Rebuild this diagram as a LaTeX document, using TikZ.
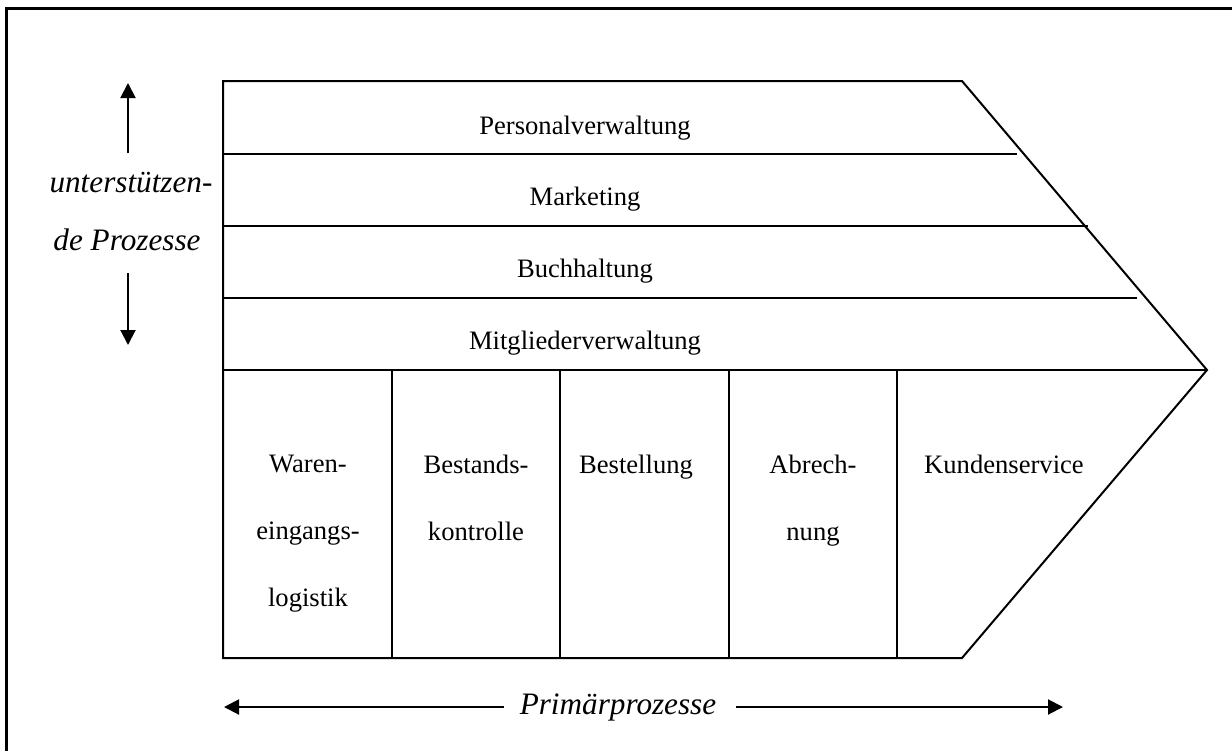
\documentclass[tikz,border=0pt]{standalone}
\usepackage{fontspec}
\setmainfont{Liberation Serif}
\usetikzlibrary{arrows.meta}

\begin{document}
\begin{tikzpicture}[x=0.5pt,y=-0.5pt,
  outline/.style={line width=1pt, line join=miter},
  rowtext/.style={font=\fontsize{13.3}{23}\selectfont, inner sep=0pt, anchor=base},
  coltext/.style={font=\fontsize{13.3}{33.5}\selectfont, inner sep=0pt, anchor=north, align=center},
  itext/.style={font=\fontsize{15.6}{19}\selectfont\itshape, inner sep=0pt, anchor=base},
  arr/.style={line width=1pt, -{Triangle[length=7.5pt,width=7.5pt]}}
]
\useasboundingbox (0,0) rectangle (1232,751);

% page frame (left and top edge)
\draw[line width=1.3pt] (1232,8.5) -- (6.5,8.5) -- (6.5,751);

% value chain outline
\coordinate (tl)  at (223,81);
\coordinate (tr)  at (962,81);
\coordinate (tip) at (1207,370);
\coordinate (br)  at (962,658);
\coordinate (bl)  at (223,658);
\draw[outline] (tr) -- (tl) -- (bl) -- (br) -- (tip) -- cycle;

% support activity rows
\coordinate (r1l) at (223,154);  \coordinate (r1r) at (1017,154);
\coordinate (r2l) at (223,226);  \coordinate (r2r) at (1088,226);
\coordinate (r3l) at (223,298);  \coordinate (r3r) at (1137,298);
\coordinate (r4l) at (223,370);
\draw[outline] (r1l) -- (r1r);
\draw[outline] (r2l) -- (r2r);
\draw[outline] (r3l) -- (r3r);
\draw[outline] (r4l) -- (tip);

% primary activity columns
\foreach \x/\n in {392/c1,560/c2,729/c3,897/c4}{
  \coordinate (\n t) at (\x,370);
  \coordinate (\n b) at (\x,658);
  \draw[outline] (\n t) -- (\n b);
}

% support activities
\node[rowtext] (pers) at (585,134) {Personalverwaltung};
\node[rowtext] (mark) at (585,205) {Marketing};
\node[rowtext] (buch) at (585,277) {Buchhaltung};
\node[rowtext] (mitg) at (585,349) {Mitgliederverwaltung};

% primary activities
\node[coltext] (ware) at (308,455) {Waren-\\eingangs-\\logistik};
\node[coltext] (best) at (476,455) {Bestands-\\kontrolle};
\node[coltext] (bstl) at (636,455) {Bestellung};
\node[coltext] (abre) at (813,455) {Abrech-\\nung};
\node[coltext] (kund) at (1004,455) {Kundenservice};

% vertical label with arrows
\node[itext] (unt) at (131,192) {unterstützen-};
\node[itext] (proz) at (127,250) {de Prozesse};
\coordinate (ua) at (128,153); \coordinate (ub) at (128,83);
\coordinate (da) at (128,273); \coordinate (db) at (128,345);
\draw[arr] (ua) -- (ub);
\draw[arr] (da) -- (db);

% horizontal label with arrows
\node[itext] (prim) at (618,714) {Primärprozesse};
\coordinate (la) at (504,707); \coordinate (lb) at (224,707);
\coordinate (ra) at (736,707); \coordinate (rb) at (1063,707);
\draw[arr] (la) -- (lb);
\draw[arr] (ra) -- (rb);
\end{tikzpicture}
\end{document}
